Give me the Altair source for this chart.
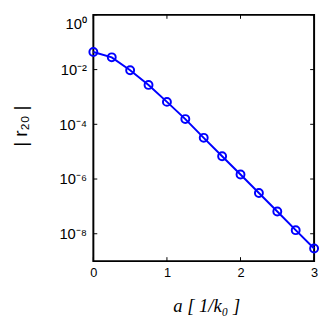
import altair as alt
import pandas as pd

a_vals = [0, 0.25, 0.5, 0.75, 1.0, 1.25, 1.5, 1.75, 2.0, 2.25, 2.5, 2.75, 3.0]
r20 = [0.044, 0.028, 0.0095, 0.00275, 6.6e-4, 1.55e-4, 3.2e-5, 6.8e-6,
       1.47e-6, 3.1e-7, 6.5e-8, 1.35e-8, 2.9e-9]
x_ticks = [0, 1, 2, 3]
y_ticks = [1, 1e-2, 1e-4, 1e-6, 1e-8]

W, H = 225, 251
df = pd.DataFrame({"a": a_vals, "r": r20})
xt = pd.DataFrame({"a": x_ticks})
yt = pd.DataFrame({"r": y_ticks})

sup = "['10⁰','10⁻¹','10⁻²','10⁻³','10⁻⁴','10⁻⁵','10⁻⁶','10⁻⁷','10⁻⁸','10⁻⁹'][round(-log(datum.value)/LN10)]"

xs = alt.Scale(domain=[0, 3], nice=False)
ys = alt.Scale(type="log", domain=[1e-9, 1], nice=False)

xaxis = alt.Axis(values=x_ticks, format="d", ticks=False, domain=False, grid=False,
                 labelFont="Liberation Sans", labelFontSize=13, labelColor="black",
                 labelPadding=6, labelFlush=False, title="a [ 1/k₀ ]",
                 titleFont="Liberation Serif",
                 titleFontStyle="italic", titleFontWeight="normal", titleFontSize=19,
                 titleColor="black", titleX=115, titleY=45, titleBaseline="middle",
                 titleAlign="center")
yaxis = alt.Axis(values=y_ticks, ticks=False, domain=False, grid=False,
                 labelExpr=sup, labelFont="Liberation Sans", labelFontSize=15,
                 labelColor="black", labelPadding=7, labelFlush=True,
                 labelFlushOffset=-2, title="| r₂₀ |",
                 titleFont="Liberation Sans", titleFontWeight="normal", titleFontSize=19,
                 titleColor="black", titleX=-74, titleY=113, titleAngle=270,
                 titleBaseline="middle", titleAlign="center")

line = alt.Chart(df).mark_line(color="#0000ff", strokeWidth=2, clip=False).encode(
    x=alt.X("a:Q", scale=xs, axis=xaxis),
    y=alt.Y("r:Q", scale=ys, axis=yaxis),
)
pts = alt.Chart(df).mark_point(shape="circle", filled=False, color="#0000ff",
                               size=65, strokeWidth=2, clip=False, opacity=1).encode(
    x=alt.X("a:Q", scale=xs), y=alt.Y("r:Q", scale=ys))

tb = alt.Chart(xt).mark_rule(color="black", strokeWidth=1).encode(
    x=alt.X("a:Q", scale=xs), y=alt.value(H), y2=alt.value(H - 4))
tt = alt.Chart(xt).mark_rule(color="black", strokeWidth=1).encode(
    x=alt.X("a:Q", scale=xs), y=alt.value(0), y2=alt.value(4))
tl = alt.Chart(yt).mark_rule(color="black", strokeWidth=1).encode(
    y=alt.Y("r:Q", scale=ys), x=alt.value(0), x2=alt.value(4))
tr = alt.Chart(yt).mark_rule(color="black", strokeWidth=1).encode(
    y=alt.Y("r:Q", scale=ys), x=alt.value(W - 4), x2=alt.value(W))

chart = alt.layer(tb, tt, tl, tr, line, pts).properties(
    width=W, height=H,
    background="white",
    autosize=alt.AutoSizeParams(type="none"),
    padding={"left": 87, "top": 4, "right": 5, "bottom": 55},
).configure_view(stroke="black", strokeWidth=2)

chart.save("out.html", embed_options={"renderer": "svg", "actions": False})
